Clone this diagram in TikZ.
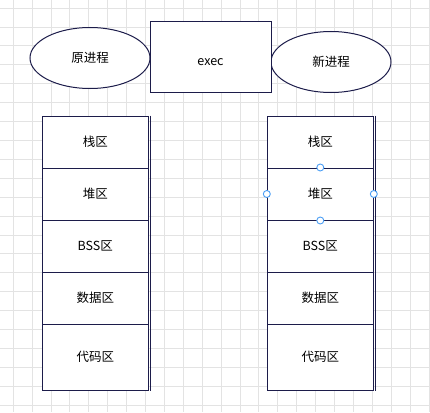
\documentclass[tikz,border=0pt]{standalone}
\usepackage{fontspec}
\setmainfont{Noto Sans CJK SC}
\usetikzlibrary{shapes.geometric}
\definecolor{inkline}{HTML}{1C1C4A}
\definecolor{gridgrey}{HTML}{E3E3E3}
\definecolor{handleblue}{HTML}{4A9EF5}
\begin{document}
\begin{tikzpicture}[x=1pt,y=-1pt,line width=1pt,
    font=\fontsize{12.5}{14}\selectfont]

        % background grid
        \useasboundingbox (0,0) rectangle (430,412);
        \fill[white] (0,0) rectangle (430,412);
        \foreach \i in {0,...,22} {
          \draw[gridgrey,line width=.8pt] (13.1+18.9*\i,0) -- (13.1+18.9*\i,412);
          \draw[gridgrey,line width=.8pt] (0,8.1+18.9*\i) -- (430,8.1+18.9*\i);
        }

        \begin{scope}[every node/.style={ellipse,draw=inkline,fill=white,
            minimum width=120pt,minimum height=61pt,inner sep=0pt}]
          \node (old) at (90,58)  {原进程};
          \node (new) at (331,62) {新进程};
        \end{scope}

        \node[draw=inkline,fill=white,minimum width=121pt,minimum height=70pt,
          inner sep=0pt,text height=17pt,text depth=0pt] (exec) at (210.5,57) {exec};

        \begin{scope}[every node/.style={draw=inkline,fill=white,
            minimum width=106pt,minimum height=52pt,inner sep=0pt}]
          \node (l1) at (95.3,142) {栈区};
          \node (l2) at (95.3,194) {堆区};
          \node (l3) at (95.3,246) {BSS区};
          \node (l4) at (95.3,298) {数据区};
          \node[minimum height=66pt] (l5) at (95.3,357) {代码区};
          \node (r1) at (320.3,142) {栈区};
          \node (r2) at (320.3,194) {堆区};
          \node (r3) at (320.3,246) {BSS区};
          \node (r4) at (320.3,298) {数据区};
          \node[minimum height=66pt] (r5) at (320.3,357) {代码区};
        \end{scope}

        % double right edge of the stacks
        \draw[inkline] ([xshift=2pt]l1.north east) -- ([xshift=2pt]l5.south east);
        \draw[inkline] ([xshift=2pt]r1.north east) -- ([xshift=2pt]r5.south east);

        % selection handles
        \begin{scope}[every node/.style={circle,draw=handleblue,fill=white,
            line width=.9pt,minimum size=7pt,inner sep=0pt}]
          \node (hn) at (r2.north) {};
          \node (hs) at (r2.south) {};
          \node (hw) at (r2.west)  {};
          \node (he) at (r2.east)  {};
        \end{scope}

      \end{tikzpicture}
\end{document}
